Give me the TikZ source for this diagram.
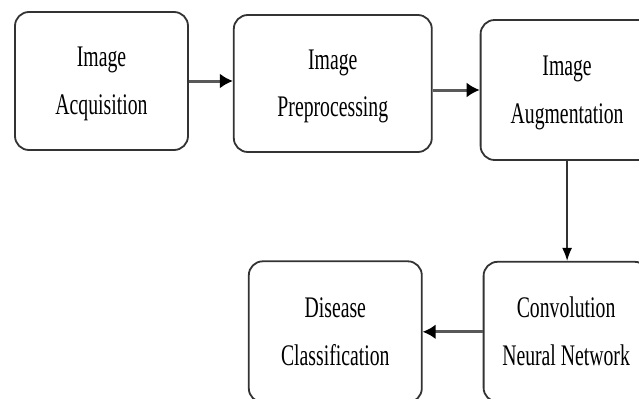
\documentclass[tikz,border=0pt]{standalone}
\usepackage{fontspec}
\setmainfont{Liberation Serif}
\usepackage{graphicx}
\usetikzlibrary{positioning,arrows.meta}
\newcommand{\narrowtext}[1]{\scalebox{0.66}[1]{\begin{tabular}{@{}c@{}}#1\end{tabular}}}
\tikzset{
  stage/.style={rectangle, rounded corners=14bp, draw=black!80, line width=1.8bp, fill=white,
                inner sep=0pt, font=\fontsize{30}{48}\selectfont, text=black},
  flow/.style={-{Latex[length=13bp,width=15bp,color=black]}, line width=3bp, draw=black!65},
  down/.style={-{Latex[length=13bp,width=10bp,color=black]}, line width=1.4bp, draw=black!80},
}

\begin{document}
\begin{tikzpicture}
  \path[use as bounding box, clip] (0bp,0bp) rectangle (639bp,-399bp);

  \node[stage, minimum width=173bp, minimum height=138bp] (stage1) at (101.5bp,-81bp) {\narrowtext{Image\\Acquisition}};
  \node[stage, minimum width=198bp, minimum height=137bp] (stage2) [right=44bp of stage1, yshift=-2.5bp] {\narrowtext{Image\\Preprocessing}};
  \node[stage, minimum width=173bp, minimum height=140bp] (stage3) [right=47bp of stage2, yshift=-6.5bp] {\narrowtext{Image\\Augmentation}};
  \node[stage, minimum width=165bp, minimum height=140bp] (stage4) [below=100bp of stage3, xshift=-1bp] {\narrowtext{Convolution\\Neural Network}};
  \node[stage, minimum width=173bp, minimum height=141bp] (stage5) [left=60bp of stage4] {\narrowtext{Disease\\Classification}};

  \draw[flow] (stage1.east) -- (stage1.east -| stage2.west);
  \draw[flow] (stage2.east |- stage3.west) -- (stage3.west);
  \draw[down] (stage3.south) -- (stage3.south |- stage4.north);
  \draw[flow] (stage4.west) -- (stage4.west -| stage5.east);

\end{tikzpicture}
\end{document}
